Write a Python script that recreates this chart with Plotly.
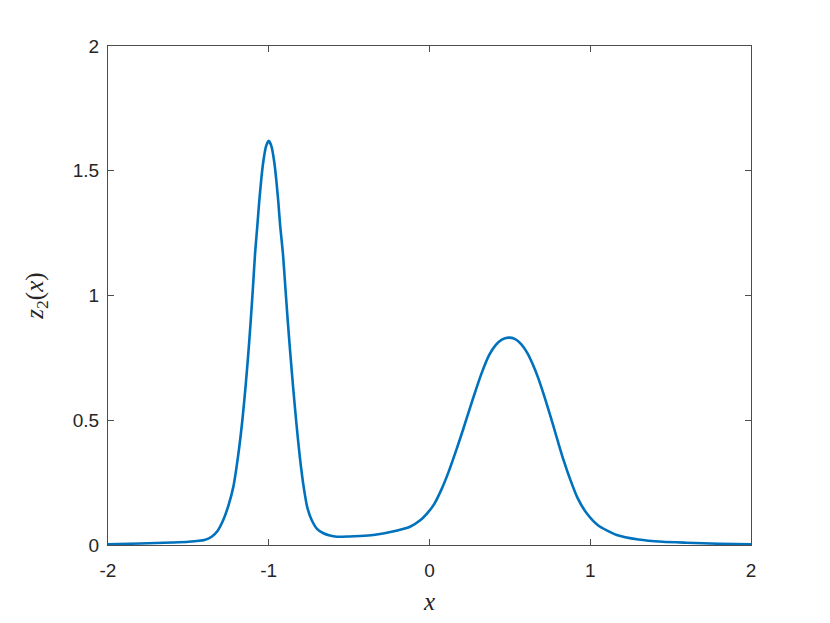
import plotly.graph_objects as go

# points
x_vals = [-2.0, -1.8, -1.6, -1.5, -1.4, -1.355, -1.32, -1.283, -1.25, -1.22, -1.19,
          -1.164, -1.145, -1.127, -1.112, -1.098, -1.085, -1.071, -1.059, -1.046, -1.034,
          -1.017, -1.0, -0.983, -0.966, -0.954, -0.941, -0.929, -0.912, -0.897, -0.882,
          -0.866, -0.848, -0.83, -0.808, -0.783, -0.76, -0.733, -0.70, -0.66, -0.62,
          -0.577, -0.50, -0.432, -0.35, -0.28, -0.2, -0.121, -0.06, -0.017, 0.03,
          0.076, 0.12, 0.169, 0.21, 0.252, 0.29, 0.325, 0.37, 0.41, 0.45, 0.49,
          0.53, 0.57, 0.61, 0.645, 0.677, 0.71, 0.739, 0.77, 0.801, 0.835, 0.874,
          0.92, 0.978, 1.05, 1.165, 1.3, 1.45, 1.6, 1.8, 2.0]
z2_vals = [0.003, 0.006, 0.010, 0.013, 0.020, 0.033, 0.055, 0.10, 0.16, 0.234, 0.36,
           0.501, 0.63, 0.768, 0.90, 1.035, 1.17, 1.28, 1.379, 1.469, 1.536,
           1.598, 1.62, 1.598, 1.536, 1.469, 1.379, 1.28, 1.17, 1.035, 0.90,
           0.768, 0.63, 0.501, 0.36, 0.234, 0.15, 0.10, 0.065, 0.047, 0.038,
           0.033, 0.034, 0.036, 0.040, 0.047, 0.058, 0.073, 0.098, 0.125, 0.165,
           0.225, 0.295, 0.385, 0.465, 0.55, 0.625, 0.69, 0.76, 0.80, 0.823, 0.831,
           0.826, 0.805, 0.768, 0.72, 0.668, 0.605, 0.545, 0.478, 0.41, 0.338, 0.265,
           0.19, 0.127, 0.078, 0.040, 0.022, 0.013, 0.009, 0.005, 0.003]

x_ticks = [-2, -1, 0, 1, 2]
y_ticks = [0, 0.5, 1, 1.5, 2]
y_tick_text = ['0', '0.5', '1', '1.5', '2']

fig = go.Figure()
fig.add_trace(go.Scatter(x=x_vals, y=z2_vals, mode='lines',
                         line=dict(color='#0072BD', width=2.6, shape='spline', smoothing=0.6),
                         showlegend=False, hoverinfo='skip'))

axis_style = dict(showline=True, linecolor='#4d4d4d', linewidth=1, mirror='ticks',
                  ticks='inside', ticklen=6, tickcolor='#4d4d4d', showgrid=False,
                  zeroline=False, tickfont=dict(family='Liberation Sans', size=19, color='#262626'))

fig.update_xaxes(range=[-2, 2], tickvals=x_ticks, ticktext=[str(t) for t in x_ticks],
                 ticklabelstandoff=8,
                 title=dict(text='<i>x</i>', font=dict(family='Liberation Serif', size=25, color='#262626'),
                            standoff=12),
                 **axis_style)
fig.update_yaxes(range=[0, 2], tickvals=y_ticks, ticktext=y_tick_text,
                 ticklabelstandoff=4,
                 title=dict(text='<i>z</i><sub>2</sub>(<i>x</i>)',
                            font=dict(family='Liberation Serif', size=25, color='#262626'),
                            standoff=22),
                 **axis_style)

# the page body adds 8px, so the margins are shifted by that much
fig.update_layout(width=830, height=623, margin=dict(l=100, r=87, t=38, b=86),
                  plot_bgcolor='white', paper_bgcolor='white')

fig.write_html("out.html")
